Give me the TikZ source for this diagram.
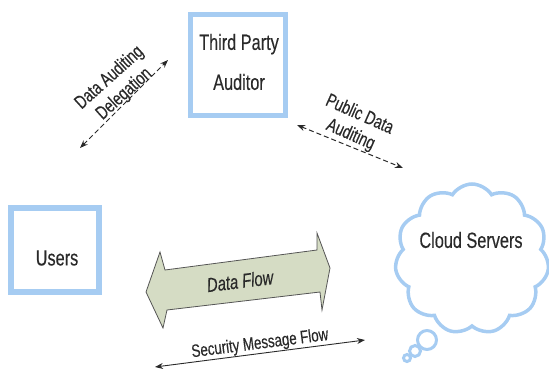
\documentclass[tikz,border=0pt]{standalone}
\usepackage{fontspec}
\setmainfont{Liberation Sans}[FakeStretch=0.74,FakeBold=0.3]
\usetikzlibrary{arrows.meta,shapes.symbols}
\definecolor{boxblue}{HTML}{A6CCF2}
\definecolor{flowfill}{HTML}{D5DCC4}
\definecolor{flowline}{HTML}{555555}
\definecolor{ink}{HTML}{2A2A2A}
\begin{document}
\begin{tikzpicture}[x=1pt,y=-1pt,
  entity/.style={draw=boxblue, line width=5.5pt, inner sep=0pt},
  dasharrow/.style={ink, line width=1pt, dash pattern=on 5pt off 3pt,
    {Stealth[length=8pt,width=6pt]}-{Stealth[length=8pt,width=6pt]}},
  solidarrow/.style={ink, line width=0.9pt,
    {Stealth[length=8pt,width=6pt]}-{Stealth[length=8pt,width=6pt]}},
  big/.style={text=ink, font=\fontsize{22}{40}\selectfont, inner sep=0pt, align=center},
  lbl/.style={text=ink, font=\fontsize{19}{22}\selectfont, inner sep=0pt, align=center},
  bubble/.style={draw=boxblue, line width=3pt, circle, inner sep=0pt}
]
\useasboundingbox (0,0) rectangle (549,372);

% Third Party Auditor
\node[entity, minimum width=95pt, minimum height=101pt] (tpa) at (238,65) {};
\node[big] (tpalabel) at (239,62) {Third Party\\Auditor};

% Users
\node[entity, minimum width=88pt, minimum height=84pt] (users) at (55,250) {};
\node[big] (userslabel) at (57,258) {Users};

% Cloud Servers
\node[cloud, cloud puffs=11, cloud puff arc=115, cloud ignores aspect,
      draw=boxblue, line width=3.5pt, minimum width=154pt, minimum height=150pt]
      (cloud) at (472,259) {};
\node[big] (cloudlabel) at (471,240) {Cloud Servers};
\node[bubble, minimum size=19pt] (b1) at (427,340) {};
\node[bubble, minimum size=11pt] (b2) at (415,351) {};
\node[bubble, minimum size=7pt] (b3) at (407,358) {};

% Data flow double arrow
\draw[draw=flowline, fill=flowfill, line width=0.8pt, line join=miter]
  (146,292) -- (160,252) -- (165,270) -- (317,250) -- (317,233) -- (330,268)
  -- (322,310) -- (320,292) -- (167,310) -- (163,328) -- cycle;
\node[text=ink, font=\fontsize{20}{22}\selectfont\itshape, inner sep=0pt, rotate=7] (dflabel) at (240,281) {Data Flow};

% Security message flow
\coordinate (smA) at (155,367);
\coordinate (smB) at (365,340);
\draw[solidarrow] (smA) -- (smB);
\node[lbl, rotate=7.3, font=\fontsize{18}{22}\selectfont] (smlabel) at (260,344) {Security Message Flow};

% Data auditing delegation
\coordinate (ddA) at (80,148);
\coordinate (ddB) at (168,60);
\draw[dasharrow] (ddA) -- (ddB);
\node[lbl, rotate=42] (ddlabel) at (117,86) {Data Auditing\\Delegation};

% Public data auditing
\coordinate (pdA) at (297,125);
\coordinate (pdB) at (403,168);
\draw[dasharrow] (pdA) -- (pdB);
\node[lbl, rotate=-24] (pdlabel) at (355,125) {Public Data\\Auditing};
\end{tikzpicture}
\end{document}
